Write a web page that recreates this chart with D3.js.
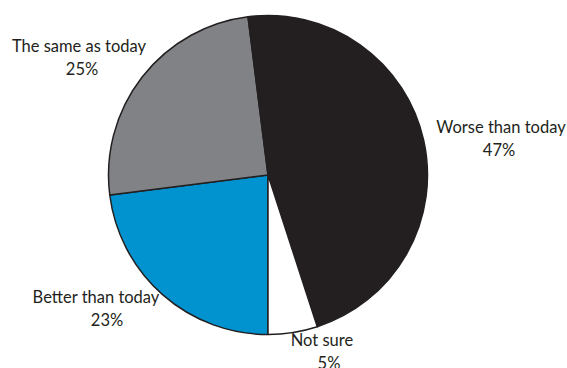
<!DOCTYPE html>
<html><head><meta charset="utf-8">
<script src="https://cdn.jsdelivr.net/npm/d3@7"></script>
<style>body{margin:0;background:#fff}svg{display:block}</style>
</head><body>
<svg id="c" width="567" height="368"></svg>
<script>
const categories = ["Better than today", "The same as today", "Worse than today", "Not sure"];
const values = [23, 25, 47, 5];
const valueLabels = ["23%", "25%", "47%", "5%"];
const colors = ["#0093d0", "#808285", "#231f20", "#ffffff"];
const labelPos = [[96, 303], [79, 52], [501, 133], [322, 346]];

const svg = d3.select("#c");
const cx = 268, cy = 175, r = 159.5;
const pie = d3.pie().sort(null).startAngle(Math.PI).endAngle(3 * Math.PI);
const arcs = pie(values);
const arc = d3.arc().innerRadius(0).outerRadius(r);
const g = svg.append("g").attr("transform", `translate(${cx},${cy})`);
g.selectAll("path").data(arcs).join("path")
  .attr("d", arc)
  .attr("fill", (d, i) => colors[i])
  .attr("stroke", "#231f20")
  .attr("stroke-width", 1.5)
  .attr("stroke-linejoin", "round");

const lab = svg.append("g").attr("font-family", "Lato, 'Open Sans', sans-serif")
  .attr("font-size", 16.5).attr("fill", "#231f20").attr("text-anchor", "middle");
categories.forEach((c, i) => {
  const t = lab.append("text").attr("x", labelPos[i][0]).attr("y", labelPos[i][1]);
  t.append("tspan").attr("x", labelPos[i][0]).text(c);
  t.append("tspan").attr("x", labelPos[i][0] + (i === 0 ? 11 : i === 3 ? 7 : i === 1 ? 3 : -2)).attr("dy", 22.5).text(valueLabels[i]);
});
</script>
</body></html>
